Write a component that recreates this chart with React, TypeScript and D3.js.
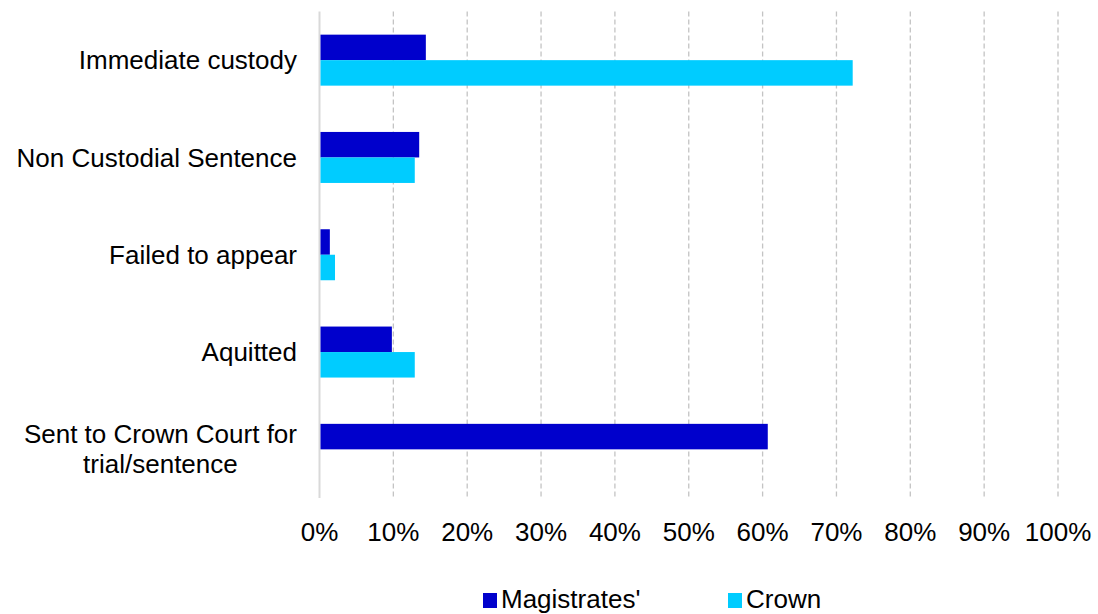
import React, { useEffect, useRef } from "react";
import * as d3 from "d3";

const categories = [
  "Immediate custody",
  "Non Custodial Sentence",
  "Failed to appear",
  "Aquitted",
  "Sent to Crown Court for\ntrial/sentence",
];
const seriesNames = ["Magistrates'", "Crown"];
const magistrates = [0.144, 0.135, 0.014, 0.098, 0.607];
const crown = [0.722, 0.129, 0.021, 0.129, 0];
const seriesColors = ["#0000CC", "#00CCFF"];
const ticks = [0, 0.1, 0.2, 0.3, 0.4, 0.5, 0.6, 0.7, 0.8, 0.9, 1.0];

const W = 1098;
const H = 614;
const FONT = "'Liberation Sans', Arial, sans-serif";
const FS = 26;

export default function App() {
  const ref = useRef<SVGSVGElement>(null);
  useEffect(() => {
    const svg = d3.select(ref.current);
    svg.selectAll("*").remove();
    const x = d3.scaleLinear().domain([0, 1]).range([319.5, 1058]);
    const y = d3.scaleBand().domain(categories).range([11.5, 498]).paddingInner(0).paddingOuter(0);
    const barH = 25.5;
    const inner = d3.scaleBand().domain(seriesNames)
      .range([y.bandwidth() / 2 - barH, y.bandwidth() / 2 + barH]).padding(0);

    // gridlines
    svg.append("g").selectAll("line").data(ticks.slice(1)).join("line")
      .attr("x1", (d) => x(d)).attr("x2", (d) => x(d))
      .attr("y1", 11.5).attr("y2", 498)
      .attr("stroke", "#C4C4C4").attr("stroke-width", 1.3).attr("stroke-dasharray", "5,3");
    svg.append("line").attr("x1", x(0)).attr("x2", x(0)).attr("y1", 11.5).attr("y2", 498)
      .attr("stroke", "#D9D9D9").attr("stroke-width", 2);

    const values = [magistrates, crown];
    values.forEach((vals, si) => {
      svg.append("g").selectAll("rect").data(categories).join("rect")
        .attr("x", x(0) + 1)
        .attr("y", (c) => (y(c) as number) + (inner(seriesNames[si]) as number))
        .attr("width", (c, i) => Math.max(0, x(vals[i]) - x(0) - 1))
        .attr("height", inner.bandwidth())
        .attr("fill", seriesColors[si]);
    });

    // category labels
    const lab = svg.append("g").attr("font-family", FONT).attr("font-size", FS).attr("fill", "#000");
    categories.forEach((c) => {
      const lines = c.split("\n");
      const cy = (y(c) as number) + y.bandwidth() / 2;
      const lh = 30;
      const t = lab.append("text").attr("text-anchor", "middle");
      const tspans = lines.map((l, i) =>
        t.append("tspan").attr("y", cy + (i - (lines.length - 1) / 2) * lh).attr("dy", "0.35em").text(l)
      );
      const widths = tspans.map((ts) => (ts.node() as SVGTSpanElement).getComputedTextLength());
      const maxW = Math.max(...widths);
      const cx = 297 - maxW / 2;
      tspans.forEach((ts) => ts.attr("x", cx));
    });

    // x tick labels
    svg.append("g").attr("font-family", FONT).attr("font-size", FS)
      .selectAll("text").data(ticks).join("text")
      .attr("x", (d) => x(d)).attr("y", 541).attr("text-anchor", "middle")
      .text((d) => d3.format(".0%")(d));

    // legend
    const leg = svg.append("g").attr("font-family", FONT).attr("font-size", FS);
    const legX = [483, 728];
    seriesNames.forEach((s, i) => {
      leg.append("rect").attr("x", legX[i]).attr("y", 593).attr("width", 14).attr("height", 15).attr("fill", seriesColors[i]);
      leg.append("text").attr("x", legX[i] + 18).attr("y", 608).text(s);
    });
  }, []);
  return <svg ref={ref} width={W} height={H} style={{ position: "absolute", left: 0, top: 0, background: "#fff" }} />;
}
